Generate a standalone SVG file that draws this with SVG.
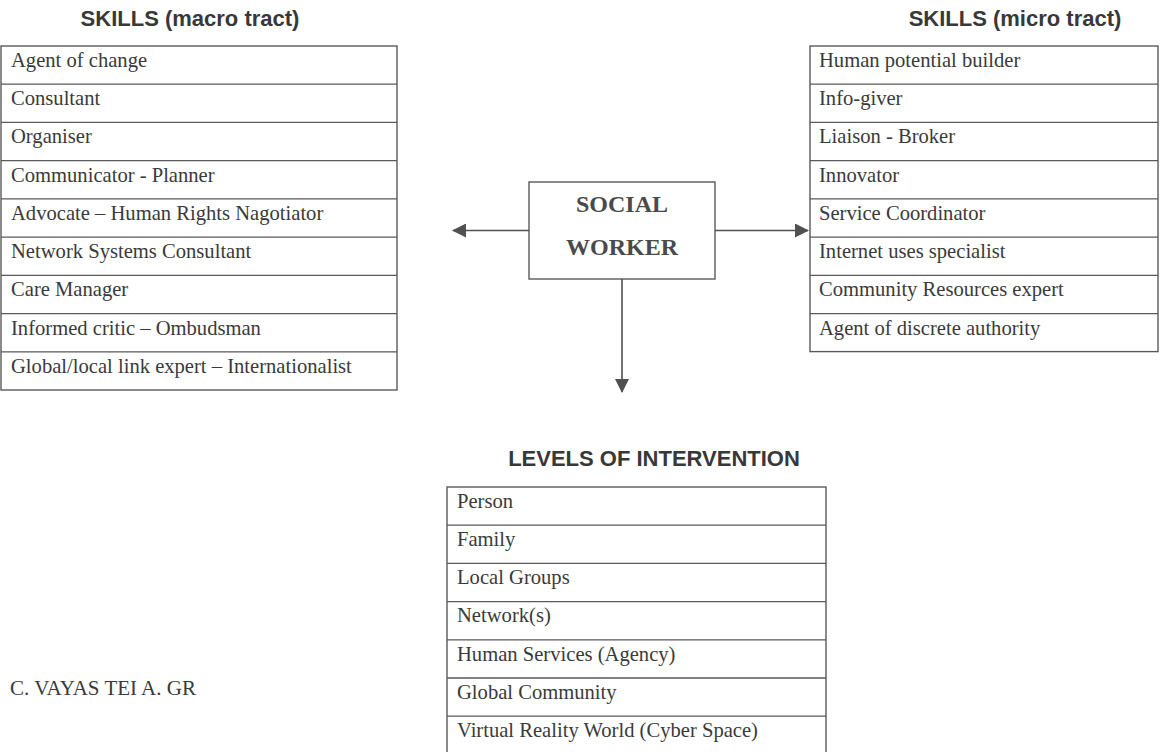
<svg xmlns="http://www.w3.org/2000/svg" width="1160" height="752" viewBox="0 0 1160 752">
<style>
.hd{font-family:"Liberation Sans",Arial,sans-serif;font-weight:bold;font-size:22px;fill:#383838;text-anchor:middle}
.it{font-family:"Liberation Serif","Times New Roman",serif;font-size:20.6px;fill:#3a3a3a}
.box{fill:#fff;stroke:#5a5a5a;stroke-width:1.4}
.ln{stroke:#5a5a5a;stroke-width:1.3;fill:none}
.sw{font-family:"Liberation Serif","Times New Roman",serif;font-weight:bold;font-size:24px;fill:#4a4a4a;text-anchor:middle}
.con{stroke:#505050;stroke-width:1.6;fill:none}
</style>
<defs>
<marker id="ah" viewBox="0 0 14 14" refX="13" refY="7" markerWidth="14" markerHeight="14" markerUnits="userSpaceOnUse" orient="auto">
<path d="M0,0 L14,7 L0,14 Z" fill="#505050"/>
</marker>
</defs>
<rect width="1160" height="752" fill="#fff"/>

<g id="macro">
<text class="hd" x="190" y="26">SKILLS (macro tract)</text>
<rect class="box" x="1" y="46" width="396" height="344"/>
<path class="ln" d="M1,84.2H397M1,122.4H397M1,160.7H397M1,198.9H397M1,237.1H397M1,275.3H397M1,313.6H397M1,351.8H397"/>
<text class="it" x="11" y="67">Agent of change</text>
<text class="it" x="11" y="105">Consultant</text>
<text class="it" x="11" y="143">Organiser</text>
<text class="it" x="11" y="182">Communicator - Planner</text>
<text class="it" x="11" y="220">Advocate – Human Rights Nagotiator</text>
<text class="it" x="11" y="258">Network Systems Consultant</text>
<text class="it" x="11" y="296">Care Manager</text>
<text class="it" x="11" y="335">Informed critic – Ombudsman</text>
<text class="it" x="11" y="373">Global/local link expert – Internationalist</text>
</g>

<g id="micro">
<text class="hd" x="1015" y="26">SKILLS (micro tract)</text>
<rect class="box" x="810" y="46" width="348" height="305.6"/>
<path class="ln" d="M810,84.2H1158M810,122.4H1158M810,160.7H1158M810,198.9H1158M810,237.1H1158M810,275.3H1158M810,313.6H1158"/>
<text class="it" x="819" y="67">Human potential builder</text>
<text class="it" x="819" y="105">Info-giver</text>
<text class="it" x="819" y="143">Liaison - Broker</text>
<text class="it" x="819" y="182">Innovator</text>
<text class="it" x="819" y="220">Service Coordinator</text>
<text class="it" x="819" y="258">Internet uses specialist</text>
<text class="it" x="819" y="296">Community Resources expert</text>
<text class="it" x="819" y="335">Agent of discrete authority</text>
</g>

<g id="social-worker">
<rect class="box" x="529" y="182" width="186" height="97"/>
<text class="sw" x="622" y="212">SOCIAL</text>
<text class="sw" x="622" y="255">WORKER</text>
</g>

<g id="connectors">
<line class="con" x1="529" y1="230.5" x2="453" y2="230.5" marker-end="url(#ah)"/>
<line class="con" x1="715" y1="230.5" x2="808" y2="230.5" marker-end="url(#ah)"/>
<line class="con" x1="622" y1="279" x2="622" y2="392" marker-end="url(#ah)"/>
</g>

<g id="levels">
<text class="hd" x="654" y="466">LEVELS OF INTERVENTION</text>
<rect class="box" x="447" y="487" width="379" height="267.4"/>
<path class="ln" d="M447,525.2H826M447,563.4H826M447,601.6H826M447,639.8H826M447,678H826M447,716.2H826"/>
<text class="it" x="457" y="508">Person</text>
<text class="it" x="457" y="546">Family</text>
<text class="it" x="457" y="584">Local Groups</text>
<text class="it" x="457" y="622">Network(s)</text>
<text class="it" x="457" y="661">Human Services (Agency)</text>
<text class="it" x="457" y="699">Global Community</text>
<text class="it" x="457" y="737">Virtual Reality World (Cyber Space)</text>
</g>

<text class="it" x="10" y="695" style="font-size:21px">C. VAYAS TEI A. GR</text>
</svg>
